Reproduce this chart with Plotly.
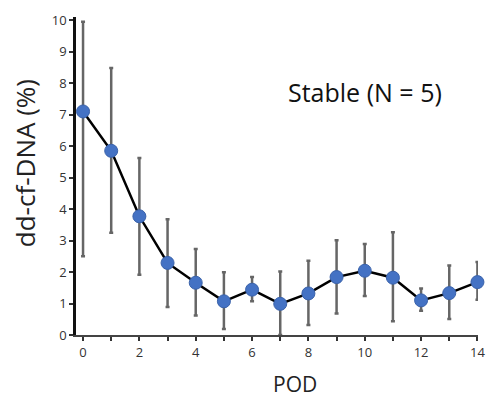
import plotly.graph_objects as go

pod = list(range(15))
mean = [7.1, 5.85, 3.77, 2.29, 1.66, 1.07, 1.44, 0.99, 1.32, 1.84, 2.04, 1.82, 1.1, 1.33, 1.68]
upper = [9.95, 8.48, 5.62, 3.68, 2.73, 1.99, 1.84, 2.02, 2.36, 3.01, 2.89, 3.26, 1.48, 2.21, 2.32]
lower = [2.5, 3.25, 1.91, 0.89, 0.62, 0.19, 1.07, 0.0, 0.32, 0.68, 1.24, 0.44, 0.77, 0.51, 1.12]
xticks = list(range(15))
xticklabels = [str(v) if v % 2 == 0 else "" for v in xticks]
yticks = list(range(11))

plus = [u - m for u, m in zip(upper, mean)]
minus = [m - l for m, l in zip(mean, lower)]

fig = go.Figure()
fig.add_trace(go.Scatter(
    x=pod, y=mean, mode="lines+markers",
    line=dict(color="black", width=2.5),
    marker=dict(color="#4472C4", size=13, line=dict(color="#3A62AA", width=1)),
    error_y=dict(type="data", symmetric=False, array=plus, arrayminus=minus,
                 color="#666666", thickness=2.5, width=2),
    cliponaxis=False, showlegend=False,
))

font = "'Open Sans', sans-serif"
fig.update_layout(
    width=486, height=400,
    margin=dict(l=76, r=8, t=17, b=65),
    paper_bgcolor="white", plot_bgcolor="white",
    font=dict(family=font, color="#333"),
    xaxis=dict(range=[-0.25, 14.02], tickvals=xticks, ticktext=xticklabels,
               automargin=False,
               showgrid=False, zeroline=False, showline=True, linecolor="#444",
               linewidth=2, ticks="outside", ticklen=4, tickwidth=1.5, tickcolor="#333",
               tickfont=dict(size=13, color="#333")),
    yaxis=dict(range=[0, 10.1], tickvals=yticks, showgrid=False, zeroline=False,
               automargin=False,
               showline=True, linecolor="#111", linewidth=2.5, ticks="outside",
               ticklen=4, tickwidth=1.5, tickcolor="#333",
               tickfont=dict(size=13, color="#333")),
    annotations=[
        dict(text="Stable (N = 5)", x=0.719, y=0.764, xref="paper", yref="paper",
             xanchor="center", yanchor="middle",
             showarrow=False, font=dict(size=25, color="#111")),
        dict(text="dd-cf-DNA (%)", x=-0.127, y=0.54, xref="paper", yref="paper",
             xanchor="center", yanchor="middle", textangle=-90,
             showarrow=False, font=dict(size=26, color="#222")),
        dict(text="POD", x=0.545, y=-0.155, xref="paper", yref="paper",
             xanchor="center", yanchor="middle",
             showarrow=False, font=dict(size=21, color="#222")),
    ],
)
fig.write_html("out.html",
               config={"displayModeBar": False},
               post_script="document.body.style.margin='0';document.body.style.overflow='hidden';")
